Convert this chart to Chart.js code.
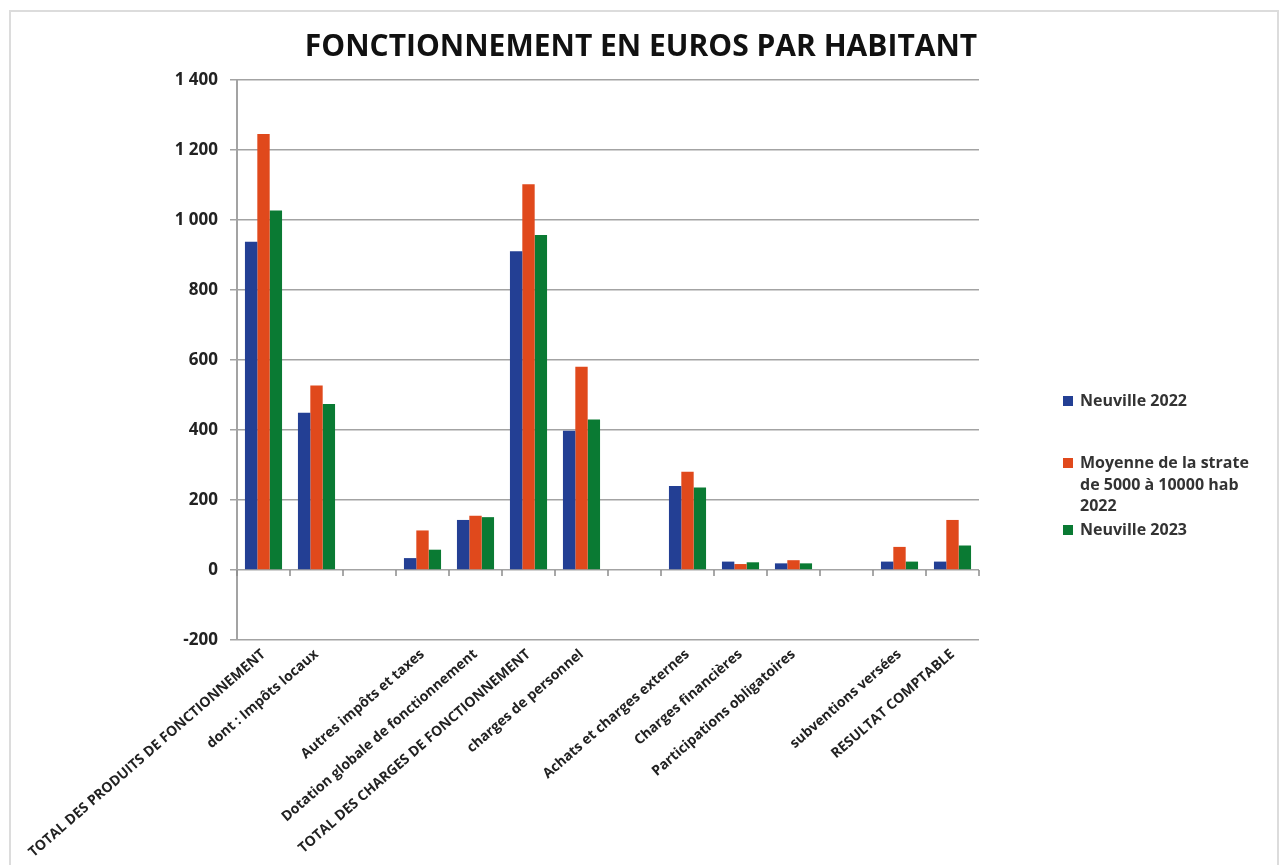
<!DOCTYPE html>
<html>
<head>
<meta charset="utf-8">
<script src="https://cdn.jsdelivr.net/npm/chart.js@4.4.1/dist/chart.umd.min.js"></script>
<style>
  html, body { margin: 0; padding: 0; background: #fff; }
  #wrap { position: relative; width: 1282px; height: 865px; overflow: hidden; }
  #frame { position: absolute; left: 9px; top: 10px; width: 1270px; height: 870px; border: 2px solid #dcdcdc; box-sizing: border-box; }
  canvas { position: absolute; left: 0; top: 0; }
  #legend { position: absolute; left: 1063px; top: 390px; font-family: "Open Sans", sans-serif; font-weight: 700; font-size: 16px; color: #333; }
  .item { position: absolute; left: 0; width: 215px; line-height: 21.5px; }
  .sw { position: absolute; left: 0; top: 6px; width: 10px; height: 10px; }
  .txt { position: absolute; left: 17px; top: 0; white-space: nowrap; }
</style>
</head>
<body>
<div id="wrap">
  <div id="frame"></div>
  <canvas id="c" width="1282" height="865"></canvas>
  <div id="legend"></div>
</div>
<script>
const categories = [
  'TOTAL DES PRODUITS DE FONCTIONNEMENT',
  'dont : Impôts locaux',
  '',
  'Autres impôts et taxes',
  'Dotation globale de fonctionnement',
  'TOTAL DES CHARGES DE FONCTIONNEMENT',
  'charges de personnel',
  '',
  'Achats et charges externes',
  'Charges financières',
  'Participations obligatoires',
  '',
  'subventions versées',
  'RESULTAT COMPTABLE'
];
const seriesNames = ['Neuville 2022', 'Moyenne de la strate de 5000 à 10000 hab 2022', 'Neuville 2023'];
const legendLines = [['Neuville 2022'], ['Moyenne de la strate', 'de 5000 à 10000 hab', '2022'], ['Neuville 2023']];
const neuville2022 = [938, 449, null, 34, 143, 911, 398, null, 240, 24, 19, null, 24, 24];
const moyenneStrate2022 = [1246, 527, null, 113, 155, 1102, 581, null, 281, 17, 28, null, 66, 143];
const neuville2023 = [1027, 474, null, 58, 151, 957, 430, null, 236, 22, 19, null, 24, 70];
const yTicks = [-200, 0, 200, 400, 600, 800, 1000, 1200, 1400];
const yTickLabels = ['-200', '0', '200', '400', '600', '800', '1 000', '1 200', '1 400'];
const colors = ['#233f94', '#e0491c', '#0a7a33'];
const titleText = 'FONCTIONNEMENT EN EUROS PAR HABITANT';

const zeroTicks = {
  id: 'zeroTicks',
  afterDatasetsDraw(chart) {
    const x = chart.scales.x, y = chart.scales.y, ctx = chart.ctx;
    const y0 = y.getPixelForValue(0);
    ctx.save();
    ctx.strokeStyle = '#8c8c8c';
    ctx.lineWidth = 1.5;
    ctx.beginPath();
    for (let k = 0; k <= categories.length; k++) {
      const px = x.getPixelForValue(k - 0.5);
      ctx.moveTo(px, y0);
      ctx.lineTo(px, y0 + 6);
    }
    ctx.stroke();
    ctx.restore();
  }
};

const datasets = [neuville2022, moyenneStrate2022, neuville2023].map((d, i) => ({
  label: seriesNames[i],
  data: d,
  backgroundColor: colors[i],
  borderWidth: 0,
  categoryPercentage: 0.7,
  barPercentage: 1.0,
  yAxisID: 'y'
}));

new Chart(document.getElementById('c'), {
  type: 'bar',
  data: { labels: categories, datasets },
  plugins: [zeroTicks],
  options: {
    responsive: false,
    animation: false,
    layout: { padding: { left: 0, right: 0, top: 0, bottom: 0 } },
    plugins: {
      legend: { display: false },
      tooltip: { enabled: false },
      title: {
        display: true,
        text: titleText,
        color: '#111',
        font: { family: 'Open Sans', weight: 'bold', size: 30 },
        padding: { top: 29, bottom: 15 }
      }
    },
    scales: {
      x: {
        offset: true,
        grid: { display: false, drawTicks: false },
        border: { display: false },
        ticks: {
          autoSkip: false,
          minRotation: 41,
          maxRotation: 41,
          padding: 6,
          color: '#222',
          font: { family: 'Open Sans', weight: 'bold', size: 14 }
        },
        afterFit(s) { s.height = 225; }
      },
      y: {
        min: -200,
        max: 1400,
        afterBuildTicks(s) { s.ticks = yTicks.map(v => ({ value: v })); },
        grid: { color: '#a3a3a3', lineWidth: 1.5, tickLength: 7, drawTicks: true },
        border: { color: '#a3a3a3', width: 2 },
        ticks: {
          padding: 12,
          color: '#222',
          font: { family: 'Open Sans', weight: 'bold', size: 17 },
          callback(v) { const i = yTicks.indexOf(v); return i >= 0 ? yTickLabels[i] : ''; }
        },
        afterFit(s) { s.width = 237; }
      },
      spacer: {
        position: 'right',
        display: true,
        min: 0,
        max: 1,
        grid: { display: false, drawTicks: false },
        border: { display: false },
        ticks: { display: false },
        afterFit(s) { s.width = 303; }
      }
    }
  }
});

const legend = document.getElementById('legend');
const tops = [0, 62, 129];
legendLines.forEach((lines, i) => {
  const item = document.createElement('div');
  item.className = 'item';
  item.style.top = tops[i] + 'px';
  const sw = document.createElement('div');
  sw.className = 'sw';
  sw.style.background = colors[i];
  const t = document.createElement('div');
  t.className = 'txt';
  t.innerHTML = lines.join('<br>');
  item.appendChild(sw);
  item.appendChild(t);
  legend.appendChild(item);
});
</script>
</body>
</html>
